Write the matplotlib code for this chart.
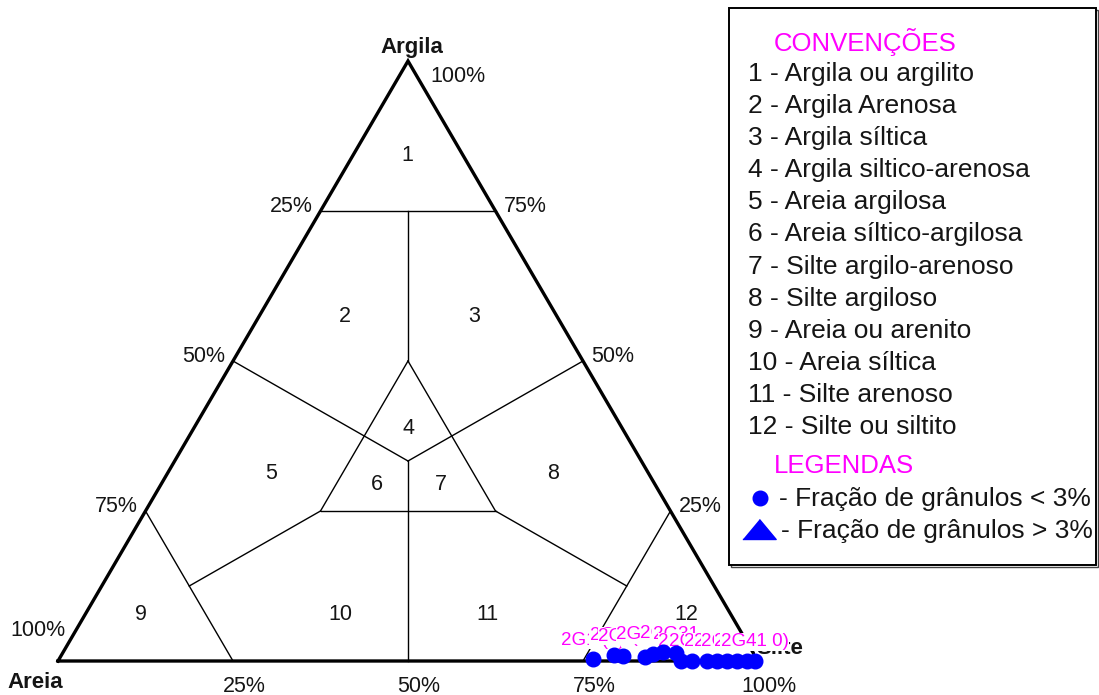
"""
Diagrama ternario Areia / Silte / Argila com as amostras 2G plotadas junto ao vertice do silte.
"""

import matplotlib

matplotlib.use("Agg")

import matplotlib.pyplot as plt
from matplotlib.patches import Rectangle


plt.rcParams["font.family"] = ["Liberation Sans", "DejaVu Sans"]

WIDTH_PX, HEIGHT_PX = 1099, 695

# amostras (percentagens): areia / silte / argila
SAMPLE_NAMES = [
    "2G1 (0)", "2G(2)", "2G(5)", "2(2G)", "2G23 (0)", "2G30", "2G31",
    "2G32", "2G33", "2G34", "2G35", "2G2G", "2G40", "2G41", "2G41 0)",
]
SAMPLE_SAND = [23.4, 20.1, 18.9, 15.8, 14.4, 12.8, 11.1, 11.0, 9.5, 7.3, 5.9, 4.5, 3.0, 1.6, 0.5]
SAMPLE_SILT = [76.3, 78.9, 80.2, 83.5, 84.4, 85.7, 87.6, 89.0, 90.5, 92.7, 94.1, 95.5, 97.0, 98.4, 99.5]
SAMPLE_CLAY = [0.3, 1.0, 0.9, 0.7, 1.2, 1.5, 1.3, 0.0, 0.0, 0.0, 0.0, 0.0, 0.0, 0.0, 0.0]

# numeros das classes e posicao (silte, argila)
CLASS_NUMBERS = ["1", "2", "3", "4", "5", "6", "7", "8", "9", "10", "11", "12"]
CLASS_SILT = [7.8, 12.3, 30.7, 30.6, 14.8, 30.8, 40.0, 55.1, 8.0, 36.4, 57.4, 85.8]
CLASS_CLAY = [84.3, 57.5, 57.5, 38.8, 31.3, 29.5, 29.5, 31.3, 7.8, 7.8, 7.8, 7.8]

EDGE_TICKS = [25, 50, 75, 100]

CONVENTIONS = [
    "1 - Argila ou argilito",
    "2 - Argila Arenosa",
    "3 - Argila síltica",
    "4 - Argila siltico-arenosa",
    "5 - Areia argilosa",
    "6 - Areia síltico-argilosa",
    "7 - Silte argilo-arenoso",
    "8 - Silte argiloso",
    "9 - Areia ou arenito",
    "10 - Areia síltica",
    "11 - Silte arenoso",
    "12 - Silte ou siltito",
]
LEGEND_LABELS = ["- Fração de grânulos < 3%", "- Fração de grânulos > 3%"]

# limites das classes, segmentos em (silte, argila)
C = 100 / 3
BOUNDARIES = [
    ((0, 75), (25, 75)),
    ((12.5, 75), (25, 50)),
    ((25, 50), (25, 25)),
    ((25, 25), (50, 25)),
    ((50, 25), (25, 50)),
    ((0, 50), (C, C)),
    ((50, 50), (C, C)),
    ((C, C), (50, 0)),
    ((25, 25), (12.5, 12.5)),
    ((0, 25), (25, 0)),
    ((50, 25), (75, 12.5)),
    ((75, 25), (75, 0)),
]

MAGENTA = "#ff00ff"
BLUE = "#0000ff"
TEXT = "#151515"
EDGE_SIZE = 15.5


def xy(silt, clay):
    return (silt + clay / 2) / 100, clay / 100


def fx(px):
    return px / WIDTH_PX


def fy(py):
    return 1 - py / HEIGHT_PX


def draw_triangle(axis):
    corners = [xy(0, 0), xy(100, 0), xy(0, 100), xy(0, 0)]
    axis.plot([p[0] for p in corners], [p[1] for p in corners],
              color="black", linewidth=2.4, solid_joinstyle="miter", zorder=2)

    for start, end in BOUNDARIES:
        p0, p1 = xy(*start), xy(*end)
        axis.plot([p0[0], p1[0]], [p0[1], p1[1]], color="black", linewidth=1.0, zorder=1)

    for number, silt, clay in zip(CLASS_NUMBERS, CLASS_SILT, CLASS_CLAY):
        x, y = xy(silt, clay)
        axis.text(x, y, number, ha="center", va="center", fontsize=15.5, color=TEXT)

    # escalas nas arestas
    for value in EDGE_TICKS:
        # argila (aresta direita)
        x, y = xy(100 - value, value)
        if value == 100:
            axis.annotate("100%", (x, y), xytext=(22, -16), textcoords="offset pixels",
                          ha="left", va="center", fontsize=EDGE_SIZE, color=TEXT)
        else:
            axis.annotate(f"{value}%", (x, y), xytext=(8, 4), textcoords="offset pixels",
                          ha="left", va="center", fontsize=EDGE_SIZE, color=TEXT)

        # areia (aresta esquerda)
        x, y = xy(0, 100 - value)
        if value == 100:
            axis.annotate("100%", (x, y), xytext=(7, 30), textcoords="offset pixels",
                          ha="right", va="center", fontsize=EDGE_SIZE, color=TEXT)
        else:
            axis.annotate(f"{value}%", (x, y), xytext=(-8, 4), textcoords="offset pixels",
                          ha="right", va="center", fontsize=EDGE_SIZE, color=TEXT)

        # silte (base)
        x, y = xy(value, 0)
        axis.annotate(f"{value}%", (x, y), xytext=(11, -25), textcoords="offset pixels",
                      ha="center", va="center", fontsize=EDGE_SIZE, color=TEXT)

    axis.annotate("Argila", xy(0, 100), xytext=(4, 14), textcoords="offset pixels",
                  ha="center", va="center", fontsize=16, fontweight="bold", color=TEXT)
    axis.annotate("Areia", xy(0, 0), xytext=(-23, -21), textcoords="offset pixels",
                  ha="center", va="center", fontsize=16, fontweight="bold", color=TEXT)
    axis.annotate("Silte", xy(100, 0), xytext=(22, 13), textcoords="offset pixels",
                  ha="center", va="center", fontsize=16, fontweight="bold", color=TEXT,
                  bbox=dict(facecolor="white", edgecolor="none", pad=1.5), zorder=3)


def draw_samples(axis):
    for index, (name, silt, clay) in enumerate(zip(SAMPLE_NAMES, SAMPLE_SILT, SAMPLE_CLAY)):
        x, y = xy(silt, clay)
        axis.annotate(name, (x, y), xytext=(0, 19), textcoords="offset pixels",
                      ha="center", va="center", fontsize=13.5, color=MAGENTA,
                      bbox=dict(facecolor="white", edgecolor="none", pad=0.3),
                      zorder=4 + index * 0.01)

    xs = [xy(s, c)[0] for s, c in zip(SAMPLE_SILT, SAMPLE_CLAY)]
    ys = [xy(s, c)[1] for s, c in zip(SAMPLE_SILT, SAMPLE_CLAY)]
    axis.plot(xs, ys, linestyle="none", marker="o", markersize=10.5,
              color=BLUE, markeredgecolor=BLUE, zorder=6, clip_on=False)


def draw_legend(axis):
    box = Rectangle((fx(729), fy(565)), fx(1096) - fx(729), fy(8) - fy(565),
                    transform=axis.transAxes, facecolor="white", edgecolor="black",
                    linewidth=1.4, zorder=7, clip_on=False)
    shadow = Rectangle((fx(731), fy(567)), fx(1096) - fx(729), fy(8) - fy(565),
                       transform=axis.transAxes, facecolor="none", edgecolor="#444444",
                       linewidth=1.0, zorder=6.9, clip_on=False)
    axis.add_patch(shadow)
    axis.add_patch(box)

    axis.text(fx(774), fy(42), "CONVENÇÕES", transform=axis.transAxes, ha="left",
              va="center", fontsize=18.5, color=MAGENTA, zorder=8)
    for row, label in enumerate(CONVENTIONS):
        axis.text(fx(748), fy(74 + row * 32.1), label, transform=axis.transAxes,
                  ha="left", va="center", fontsize=19, color=TEXT, zorder=8)

    axis.text(fx(774), fy(466), "LEGENDAS", transform=axis.transAxes, ha="left",
              va="center", fontsize=18.5, color=MAGENTA, zorder=8)

    axis.plot([fx(760)], [fy(498)], marker="o", markersize=10.5, color=BLUE,
              transform=axis.transAxes, zorder=8, clip_on=False)
    axis.plot([fx(759)], [fy(529)], marker=[(-1, -0.6), (1, -0.6), (0, 0.6)],
              markersize=24, color=BLUE, transform=axis.transAxes, zorder=8, clip_on=False)
    axis.text(fx(779), fy(499), LEGEND_LABELS[0], transform=axis.transAxes, ha="left",
              va="center", fontsize=19, color=TEXT, zorder=8)
    axis.text(fx(781), fy(531), LEGEND_LABELS[1], transform=axis.transAxes, ha="left",
              va="center", fontsize=19, color=TEXT, zorder=8)


def main():
    fig = plt.figure(figsize=(WIDTH_PX / 100, HEIGHT_PX / 100), dpi=100)
    fig.patch.set_facecolor("white")
    axis = fig.add_axes([0, 0, 1, 1])
    axis.set_xlim(-58 / 700, (WIDTH_PX - 58) / 700)
    axis.set_ylim(-(HEIGHT_PX - 661) / 600, 661 / 600)
    axis.axis("off")

    draw_triangle(axis)
    draw_samples(axis)
    draw_legend(axis)

    fig.savefig("out.png", dpi=100, facecolor="white")
    plt.close(fig)


if __name__ == "__main__":
    main()
